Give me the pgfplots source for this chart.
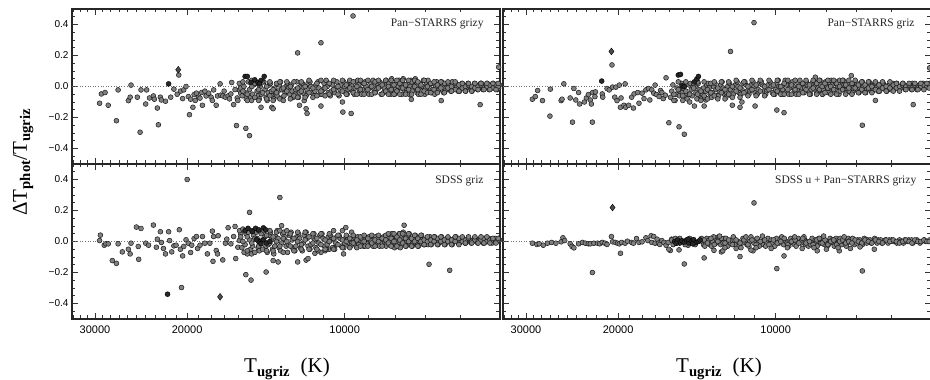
\documentclass[border=0pt]{standalone}
\usepackage{fontspec}
\setmainfont{Liberation Serif}
\setsansfont{Liberation Sans}
\usepackage{pgfplots}
\pgfplotsset{compat=1.18}

\pgfplotsset{
  pnl/.style={
    xmin=5050, xmax=33200, ymin=-0.5, ymax=0.5,
    scale only axis, width=428pt, height=155pt, anchor=south west,
    axis line style={line width=1.3pt, black!85},
    xtick={10000,20000,30000}, xticklabels={10000,20000,30000},
    minor xtick={6000,7000,8000,9000,11000,12000,13000,14000,15000,16000,17000,18000,19000,21000,22000,23000,24000,25000,26000,27000,28000,29000,31000,32000,33000},
    ytick={-0.4,-0.2,0,0.2,0.4}, yticklabels={−0.4,−0.2,0.0,0.2,0.4},
    minor ytick={-0.45,-0.35,-0.3,-0.25,-0.15,-0.1,-0.05,0.05,0.1,0.15,0.25,0.3,0.35,0.45},
    tick align=inside, major tick length=6pt, minor tick length=3.5pt,
    tick style={line width=0.7pt, black!80},
    xticklabel style={font=\sffamily\fontsize{11}{12}\selectfont, yshift=-3pt},
    yticklabel style={font=\sffamily\fontsize{10}{12}\selectfont},
  },
  zl/.style={black!55, line width=0.8pt, dash pattern=on 1pt off 1.6pt},
  gp/.style={only marks, mark=*, mark size=2.45pt, mark options={fill=black!50, draw=black!90, line width=0.5pt}},
  bk/.style={only marks, mark=*, mark size=2.5pt, mark options={fill=black!85, draw=black, line width=0.4pt}},
  dm/.style={only marks, mark=diamond*, mark size=3.4pt, mark options={fill=black!70, draw=black, line width=0.4pt}},
}
\tikzset{lab/.style={anchor=base east, font=\fontsize{11.5}{13}\selectfont, text=black!85}}

\begin{document}
\begin{tikzpicture}[x=1pt,y=1pt]
\useasboundingbox (0,0) rectangle (930,380);

% ---------------- top left ----------------
\begin{axis}[xmode=log, x dir=reverse, pnl, at={(72pt,216pt)}, xticklabels={}]
\addplot[zl] coordinates {(33200,0) (5050,0)};
\addplot[gp] coordinates {
(29400,-0.108) (29170,-0.048) (28700,-0.039) (28300,-0.121) (27300,-0.221) (27100,-0.022) (25900,-0.091) (25700,-0.069) (25600,0.009) (24900,-0.069) (24600,-0.295) (24500,-0.022) (23900,-0.022) (24000,-0.113) (23600,-0.074) (23200,-0.061) (23100,-0.082) (22800,-0.139) (22700,-0.247) (22500,-0.069) (22400,-0.087) (22000,-0.095) (21500,-0.069) (21200,-0.017) (20750,0.074) (20600,-0.03) (20400,-0.078) (20300,-0.022) (20100,0.0) (19800,-0.182) (19900,-0.065) (19700,-0.082) (19500,-0.134) (19400,-0.052) (19200,-0.043) (19000,-0.069) (18760,-0.039) (18700,-0.121) (18400,-0.061) (18200,-0.043) (18000,-0.069) (17800,-0.022) (17500,-0.061) (17300,0.017) (17250,-0.056) (17100,-0.061) (16900,-0.069) (16700,-0.061) (16500,-0.048) (16440,0.026) (16300,-0.117) (16100,-0.252) (16050,-0.074) (15900,-0.022) (15800,-0.043) (15450,-0.27) (15200,-0.317) (14450,-0.134) (13780,-0.134) (13700,-0.143)
(20900,-0.05) (19300,-0.09) (18900,-0.075) (18500,-0.03) (17900,-0.09) (17600,-0.121) (17000,-0.03) (16600,-0.08) (16200,-0.02) (16000,-0.09)
(12300,0.217) (11100,0.282) (12200,-0.121) (11950,-0.091) (11850,-0.143) (11800,-0.174) (11100,-0.126) (10080,-0.165) (9720,-0.174) (9640,0.455) (10100,-0.10) (7460,-0.083) (6540,-0.091) (5510,-0.117) (5080,0.125)
(15800,-0.01) (15700,-0.06) (15900,0.02) (15500,-0.04) (15420,-0.08) (15580,0.00) (15200,-0.02) (15120,-0.07) (15280,0.03) (15000,-0.05) (14930,0.01) (15060,-0.09)
(14700,-0.03) (14630,-0.06) (14770,0.02) (14500,0.00) (14430,-0.05) (14560,-0.08) (14200,-0.02) (14130,-0.07) (14270,0.03) (14000,-0.04) (13930,0.01) (14060,-0.09)
(13800,-0.03) (13740,-0.06) (13860,0.02) (13600,-0.01) (13540,-0.05) (13660,-0.08) (13400,-0.03) (13340,0.01) (13460,-0.06) (13200,-0.02) (13140,-0.07) (13260,0.03)
(13000,-0.04) (12940,0.00) (13060,-0.06) (12800,-0.01) (12740,-0.05) (12860,0.02) (12600,-0.03) (12540,-0.07) (12660,0.01) (12400,-0.02) (12350,0.03) (12450,-0.05)
(12200,-0.04) (12150,0.00) (12250,-0.07) (12000,-0.01) (11950,-0.05) (12050,0.02) (11800,-0.02) (11750,0.02) (11850,-0.06) (11600,0.00) (11550,-0.04) (11650,0.03)
(11400,-0.03) (11350,0.01) (11450,-0.06) (11200,-0.01) (11150,-0.05) (11250,0.03) (11000,-0.02) (10950,0.02) (11050,-0.05) (10800,0.00) (10750,-0.04) (10850,0.04)
(10600,-0.03) (10550,0.01) (10650,-0.06) (10400,-0.01) (10350,0.03) (10450,-0.04) (10200,-0.02) (10150,0.01) (10250,-0.06) (10000,0.00) (9960,-0.04) (10040,0.03)
(9850,-0.02) (9810,0.02) (9890,-0.05) (9700,0.01) (9660,-0.03) (9740,0.03) (9550,-0.01) (9510,0.03) (9590,-0.05) (9400,0.01) (9360,-0.03) (9440,0.04)
(9250,-0.02) (9210,0.02) (9290,-0.05) (9100,0.00) (9060,-0.04) (9140,0.03) (8950,-0.01) (8910,0.02) (8990,-0.05) (8800,0.01) (8770,-0.03) (8830,0.04)
(8700,-0.02) (8660,0.02) (8740,-0.04) (8550,0.00) (8520,-0.05) (8580,0.03) (8400,-0.01) (8370,0.03) (8430,-0.04) (8300,0.02) (8270,-0.02) (8330,0.04)
(8200,-0.01) (8170,-0.05) (8230,0.02) (8100,0.01) (8070,-0.03) (8130,0.05) (8000,-0.02) (7970,0.02) (8030,-0.05) (7900,0.00) (7870,0.04) (7930,-0.03)
(7800,-0.01) (7770,-0.05) (7830,0.03) (7700,0.01) (7670,-0.03) (7730,0.05) (7600,-0.02) (7570,0.02) (7630,-0.04) (7500,0.00) (7470,0.04) (7530,-0.05)
(7400,-0.01) (7370,0.02) (7430,-0.03) (7300,0.01) (7270,-0.04) (7330,0.05) (7200,-0.02) (7170,0.02) (7230,-0.05) (7100,0.00) (7070,0.04) (7130,-0.03)
(7000,-0.01) (6970,0.02) (7030,-0.05) (6900,0.01) (6870,-0.03) (6930,0.04) (6800,-0.02) (6770,0.02) (6830,-0.04) (6700,0.00) (6670,0.03) (6730,-0.05)
(6600,-0.01) (6570,0.02) (6630,-0.03) (6500,0.01) (6470,-0.04) (6530,0.03) (6400,-0.01) (6370,0.02) (6430,-0.03) (6300,0.00) (6270,-0.03) (6330,0.02)
(6200,-0.02) (6170,0.01) (6230,0.03) (6100,0.00) (6070,-0.03) (6130,0.02) (6000,-0.01) (5970,0.02) (6030,-0.03) (5920,0.01) (5890,-0.02)
(5840,-0.01) (5810,0.02) (5870,-0.03) (5760,0.00) (5730,-0.02) (5680,-0.01) (5650,0.02) (5710,-0.03) (5600,0.01) (5570,-0.02) (5530,-0.01) (5500,0.02)
(5460,0.00) (5440,-0.02) (5480,0.02) (5390,-0.01) (5370,0.01) (5320,0.00) (5300,-0.02) (5340,0.02) (5250,-0.01) (5230,0.01) (5180,0.01) (5160,-0.01) (5200,0.02)
(5120,0.00) (5100,-0.02) (5060,0.01) (5080,-0.01)
(15650,-0.03) (15350,-0.05) (15050,0.00) (14850,-0.07) (14600,-0.02) (14350,-0.04) (14100,0.00) (13900,-0.06) (13700,-0.02) (13500,-0.04) (13300,-0.08) (13100,-0.01) (12900,-0.03) (12700,0.00) (12500,-0.06) (12300,-0.01) (12100,-0.03) (11900,0.00) (11700,-0.04) (11500,-0.01) (11300,0.02) (11100,-0.03) (10900,-0.01) (10700,0.02) (10500,-0.02) (10300,0.00) (10100,-0.03) (9930,0.01) (9780,-0.01) (9630,-0.04) (9480,0.00) (9330,-0.02) (9180,0.02) (9030,-0.02) (8880,0.00) (8750,0.03) (8620,-0.01) (8480,0.01) (8350,-0.03) (8250,0.00) (8150,-0.02) (8050,0.01) (7950,-0.03) (7850,0.02) (7750,-0.01) (7650,0.01) (7550,-0.02) (7450,0.03) (7350,0.00) (7250,-0.02) (7150,0.01) (7050,-0.03) (6950,0.00) (6850,0.02) (6750,-0.02) (6650,0.01) (6550,-0.01) (6450,0.02) (6350,-0.01) (6250,0.00) (6150,-0.02) (6050,0.01) (5960,-0.01) (5880,0.00) (5800,0.01) (5720,0.00) (5640,-0.01) (5560,0.00) (5490,0.01) (5420,-0.01) (5350,0.00) (5280,0.01) (5210,-0.01) (5140,0.01) (5090,0.00)
(15650,0.03) (15350,-0.09) (15050,0.04) (14850,0.02) (14600,-0.09) (14350,0.03) (14100,-0.08) (13900,0.03) (13700,-0.09) (13500,0.02) (13300,0.03) (13100,-0.09) (12900,0.03) (12700,-0.08) (12500,0.03) (12300,-0.07) (12100,0.03) (11900,-0.07) (11700,0.04) (11500,-0.07) (11300,-0.06) (11100,0.04) (10900,-0.06) (10700,-0.05) (10500,0.04) (10300,-0.05) (10100,0.04) (9930,-0.05) (9780,0.04) (9630,0.03) (9480,-0.05) (9330,0.04) (9180,-0.05) (9030,0.04) (8880,-0.05) (8750,-0.04) (8620,0.04) (8480,-0.05) (8350,0.04) (8250,-0.05) (8150,0.04) (8050,-0.05) (7950,0.04) (7850,-0.05) (7750,0.04) (7650,-0.05) (7550,0.04) (7450,-0.05) (7350,0.04) (7250,0.03) (7150,-0.05) (7050,0.04) (6950,-0.04) (6850,-0.04) (6750,0.03) (6650,-0.04) (6550,0.03) (6450,-0.04) (6350,0.03) (6250,-0.03) (6150,0.03) (6050,-0.03) (5960,0.02) (5880,-0.03) (5800,0.02) (5720,-0.03) (5640,0.02) (5560,-0.02) (5490,0.02) (5420,-0.02) (5350,0.02) (5280,-0.02) (5210,0.02) (5140,-0.02) (5090,0.02)
};
\addplot[bk] coordinates {(15500,0.065) (15350,0.065) (15100,0.026) (14850,0.043) (14650,0.026) (14450,0.039) (14250,0.065) (14550,0.017) (21700,0.017)};
\addplot[dm] coordinates {(20800,0.108)};
\node[lab] at (rel axis cs:0.97,0.884) {Pan−STARRS grizy};
\end{axis}

% ---------------- bottom left ----------------
\begin{axis}[xmode=log, x dir=reverse, pnl, at={(72pt,61pt)}]
\addplot[zl] coordinates {(33200,0) (5050,0)};
\addplot[gp] coordinates {
(29400,0.006) (29300,0.041) (28800,-0.024) (28600,-0.015) (28300,-0.015) (27800,-0.123) (27300,-0.141) (27100,-0.015) (26600,-0.067) (25900,-0.05) (25700,-0.08) (25600,-0.011) (25000,0.093) (24500,0.084) (24800,-0.032) (24750,-0.115) (24000,-0.011) (23700,-0.024) (23200,0.106) (22900,-0.037) (22800,0.015) (22500,0.063) (22400,-0.006) (22200,-0.045) (22000,-0.08) (21700,0.063) (21600,0.006) (21400,-0.067) (21200,-0.028) (21000,-0.024) (20700,0.076) (20500,-0.297) (20600,-0.05) (20400,-0.093) (20300,-0.032) (20100,0.011) (20000,0.40) (19900,-0.011) (19700,-0.071) (19600,-0.024) (19400,0.019) (19200,0.032) (19100,-0.045) (18900,-0.024) (18700,0.032) (18500,-0.011) (18300,-0.080) (18100,-0.011) (17900,0.067) (17850,-0.128) (17800,0.032) (17600,-0.058) (17500,-0.080) (17450,0.037) (17100,-0.119) (16900,-0.011) (16800,0.015) (16700,0.089) (16500,-0.015) (16300,0.032) (16200,0.097) (16150,-0.11) (16000,-0.037) (15900,0.006) (15800,0.050)
(15200,0.188) (15450,-0.214) (15100,-0.249) (15350,-0.08) (14130,-0.197) (13700,-0.123) (13400,-0.132) (13300,0.284) (13200,0.102) (12300,-0.132) (11850,-0.12) (11750,-0.11) (11400,-0.076) (11100,-0.07) (10900,-0.06) (10700,-0.05) (10500,-0.04) (10500,0.07) (10100,0.07) (9950,0.09) (10050,-0.08) (9700,0.06) (7700,0.105) (6900,-0.147) (6300,-0.186)
(15800,0.03) (15720,-0.04) (15880,0.07) (15500,-0.02) (15430,0.05) (15570,-0.07) (15200,0.01) (15130,-0.05) (15270,0.06) (15000,-0.03) (14930,0.04) (15070,-0.08)
(14700,0.02) (14640,-0.04) (14760,0.06) (14500,-0.01) (14440,0.05) (14560,-0.06) (14200,0.03) (14140,-0.03) (14260,0.07) (14000,-0.02) (13940,0.04) (14060,-0.07)
(13800,0.01) (13740,-0.05) (13860,0.06) (13600,-0.03) (13540,0.03) (13660,-0.08) (13400,0.02) (13340,-0.04) (13460,0.07) (13200,-0.01) (13140,0.05) (13260,-0.06)
(13000,0.03) (12940,-0.03) (13060,0.06) (12800,-0.02) (12740,0.04) (12860,-0.07) (12600,0.01) (12540,-0.05) (12660,0.06) (12400,-0.03) (12350,0.03) (12450,-0.06)
(12200,0.02) (12150,-0.04) (12250,0.05) (12000,-0.01) (11950,0.04) (12050,-0.06) (11800,0.02) (11750,-0.03) (11850,0.06) (11600,-0.02) (11550,0.03) (11650,-0.05)
(11400,0.01) (11350,-0.04) (11450,0.05) (11200,-0.01) (11150,0.04) (11250,-0.06) (11000,0.02) (10950,-0.03) (11050,0.05) (10800,-0.02) (10750,0.03) (10850,-0.05)
(10600,0.01) (10550,-0.04) (10650,0.04) (10400,-0.01) (10350,0.03) (10450,-0.05) (10200,0.02) (10150,-0.03) (10250,0.04) (10000,-0.01) (9960,0.02) (10040,-0.04)
(9850,0.01) (9810,-0.03) (9890,0.03) (9700,-0.01) (9660,0.02) (9740,-0.03) (9550,0.00) (9510,-0.03) (9590,0.03) (9400,-0.02) (9360,0.01) (9440,0.03)
(9250,0.00) (9210,-0.03) (9290,0.02) (9100,-0.01) (9060,0.02) (9140,-0.03) (8950,0.01) (8910,-0.02) (8990,0.03) (8800,-0.01) (8770,0.02) (8830,-0.03)
(8700,0.00) (8660,-0.02) (8740,0.03) (8550,-0.01) (8520,0.02) (8580,-0.03) (8400,0.01) (8370,-0.02) (8430,0.03) (8300,-0.01) (8270,0.03) (8330,-0.03)
(8200,0.00) (8170,0.04) (8230,-0.02) (8100,0.02) (8070,-0.02) (8130,0.05) (8000,-0.01) (7970,0.03) (8030,-0.04) (7900,0.01) (7870,0.05) (7930,-0.03)
(7800,-0.01) (7770,0.03) (7830,-0.04) (7700,0.02) (7670,-0.02) (7730,0.06) (7600,0.00) (7570,0.04) (7630,-0.03) (7500,0.01) (7470,-0.02) (7530,0.05)
(7400,-0.01) (7370,0.03) (7430,-0.03) (7300,0.02) (7270,-0.01) (7330,0.04) (7200,0.00) (7170,0.03) (7230,-0.03) (7100,0.01) (7070,-0.02) (7130,0.04)
(7000,-0.01) (6970,0.02) (7030,-0.02) (6900,0.01) (6870,0.03) (6930,-0.02) (6800,0.00) (6770,0.02) (6830,-0.02) (6700,0.01) (6670,-0.01) (6730,0.03)
(6600,0.00) (6570,0.02) (6630,-0.02) (6500,0.01) (6470,-0.01) (6530,0.03) (6400,0.00) (6370,0.02) (6430,-0.02) (6300,0.01) (6270,-0.01) (6330,0.02)
(6200,0.00) (6170,0.02) (6230,-0.02) (6100,0.01) (6070,-0.01) (6130,0.03) (6000,0.00) (5970,0.02) (6030,-0.01) (5920,0.01) (5890,-0.01)
(5840,0.00) (5810,0.02) (5870,-0.01) (5760,0.01) (5730,-0.01) (5680,0.00) (5650,0.02) (5600,0.01) (5570,-0.01) (5630,0.02) (5530,0.00) (5500,0.02)
(5460,0.01) (5440,-0.01) (5390,0.00) (5370,0.02) (5410,-0.01) (5320,0.01) (5300,0.02) (5250,0.00) (5230,-0.01) (5180,0.01) (5160,0.02)
(5120,0.00) (5100,0.01) (5060,0.01) (5080,0.02)
(15650,0.00) (15350,0.03) (15050,-0.01) (14850,0.02) (14600,-0.03) (14350,0.01) (14100,0.04) (13900,-0.01) (13700,0.03) (13500,0.00) (13300,-0.03) (13100,0.02) (12900,0.00) (12700,-0.03) (12500,0.02) (12300,0.00) (12100,-0.02) (11900,0.01) (11700,0.03) (11500,-0.01) (11300,0.02) (11100,-0.02) (10900,0.01) (10700,0.00) (10500,0.02) (10300,-0.02) (10100,0.01) (9930,0.00) (9780,0.02) (9630,-0.01) (9480,0.01) (9330,0.03) (9180,0.00) (9030,0.02) (8880,-0.01) (8750,0.01) (8620,0.00) (8480,0.02) (8350,0.01) (8250,-0.01) (8150,0.02) (8050,0.00) (7950,0.03) (7850,0.01) (7750,-0.01) (7650,0.02) (7550,0.00) (7450,0.02) (7350,0.00) (7250,0.02) (7150,0.00) (7050,0.01) (6950,0.00) (6850,0.01) (6750,0.00) (6650,0.02) (6550,0.00) (6450,0.01) (6350,0.00) (6250,0.01) (6150,0.00) (6050,0.02) (5960,0.00) (5880,0.01) (5800,0.02) (5720,0.00) (5640,0.01) (5560,0.00) (5490,0.01) (5420,0.02) (5350,0.00) (5280,0.01) (5210,0.01) (5140,0.00) (5090,0.01)
(15650,0.08) (15350,-0.06) (15050,0.07) (14850,-0.07) (14600,0.07) (14350,-0.05) (14100,-0.06) (13900,0.07) (13700,-0.06) (13500,0.06) (13300,0.07) (13100,-0.07) (12900,0.07) (12700,0.05) (12500,-0.06) (12300,0.06) (12100,-0.05) (11900,0.06) (11700,-0.05) (11500,0.05) (11300,-0.05) (11100,0.05) (10900,-0.05) (10700,0.05) (10500,-0.05) (10300,0.04) (10100,-0.04) (9930,0.04) (9780,-0.04) (9630,0.04) (9480,-0.04) (9330,-0.03) (9180,0.04) (9030,-0.03) (8880,0.04) (8750,-0.03) (8620,0.04) (8480,-0.03) (8350,0.04) (8250,0.05) (8150,-0.03) (8050,0.05) (7950,-0.03) (7850,0.05) (7750,0.05) (7650,-0.03) (7550,0.05) (7450,-0.03) (7350,0.04) (7250,-0.03) (7150,0.04) (7050,-0.02) (6950,0.03) (6850,-0.02) (6750,0.03) (6650,-0.02) (6550,0.03) (6450,-0.02) (6350,0.03) (6250,-0.02) (6150,0.03) (6050,-0.02) (5960,0.03) (5880,-0.01) (5800,0.03) (5720,-0.01) (5640,0.03) (5560,-0.01) (5490,0.03) (5420,-0.01) (5350,0.03) (5280,-0.01) (5210,0.02) (5140,-0.01) (5090,0.02)
};
\addplot[bk] coordinates {(14600,0.0) (14300,0.01) (14100,-0.01) (13900,0.0) (14450,-0.015) (14750,0.012) (15500,0.07) (15300,0.085) (15000,0.065) (14800,0.085) (14600,0.075) (14300,0.088) (14150,0.075) (21800,-0.34)};
\addplot[dm] coordinates {(17300,-0.357)};
\node[lab] at (rel axis cs:0.97,0.877) {SDSS griz};
\end{axis}

% ---------------- top right ----------------
\begin{axis}[xmode=log, x dir=reverse, pnl, at={(503pt,216pt)}, xticklabels={}, yticklabels={}]
\addplot[zl] coordinates {(33200,0) (5050,0)};
\addplot[gp] coordinates {
(29170,-0.082) (28800,-0.065) (28500,-0.026) (27900,-0.091) (27000,-0.191) (26950,-0.017) (25700,-0.091) (25600,-0.082) (25400,0.017) (24700,-0.074) (24450,-0.23) (24300,-0.013) (24100,-0.087) (23800,-0.039) (23700,-0.113) (23200,-0.1) (23000,-0.074) (22800,-0.052) (22600,-0.087) (22500,-0.113) (22400,-0.23) (22380,-0.039) (22150,-0.065) (22100,-0.035) (21450,-0.048) (21400,-0.069) (20550,0.139)
(21000,-0.013) (20800,-0.022) (20500,-0.004) (20300,-0.069) (20200,-0.004) (20100,-0.091) (19900,0.009) (19800,-0.134) (19750,-0.074) (19500,-0.121) (19400,0.017) (19350,-0.134) (19100,-0.121) (18850,-0.069) (18700,-0.139) (18650,-0.048) (18350,-0.039) (18250,-0.108) (18000,-0.043) (17850,-0.078) (17700,-0.022) (17500,-0.013) (17400,-0.087) (17250,-0.022) (17100,-0.043) (17000,0.009) (16900,-0.052) (16700,-0.065) (16600,-0.026) (16500,-0.039) (16400,-0.078) (16250,-0.056) (16200,0.056) (16000,-0.234) (15300,-0.26) (14950,-0.308) (14300,-0.126) (13700,-0.126) (13600,-0.087)
(12200,0.226) (11000,0.412) (12100,-0.121) (11700,-0.134) (11600,-0.1) (10950,-0.126) (9950,-0.152) (9640,-0.169) (8400,0.06) (7170,0.07) (6830,-0.25) (6450,-0.09) (5460,-0.117) (5080,0.12)
(15800,-0.03) (15720,0.01) (15880,-0.07) (15500,-0.05) (15430,-0.01) (15570,-0.09) (15200,-0.03) (15130,0.02) (15270,-0.06) (15000,-0.01) (14930,-0.07) (15070,-0.04)
(14700,-0.05) (14640,0.01) (14760,-0.08) (14500,-0.02) (14440,-0.06) (14560,0.02) (14200,-0.04) (14140,-0.08) (14260,0.00) (14000,-0.02) (13940,-0.06) (14060,0.02)
(13800,-0.05) (13740,-0.01) (13860,-0.08) (13600,-0.03) (13540,0.01) (13660,-0.07) (13400,-0.01) (13340,-0.05) (13460,0.02) (13200,-0.04) (13140,0.00) (13260,-0.07)
(13000,-0.02) (12940,-0.06) (13060,0.02) (12800,-0.03) (12740,0.01) (12860,-0.06) (12600,-0.01) (12540,-0.05) (12660,0.03) (12400,-0.04) (12350,0.00) (12450,-0.07)
(12200,-0.02) (12150,-0.06) (12250,0.02) (12000,-0.03) (11950,0.01) (12050,-0.05) (11800,0.00) (11750,-0.04) (11850,0.03) (11600,-0.02) (11550,0.02) (11650,-0.05)
(11400,0.01) (11350,-0.03) (11450,0.03) (11200,-0.03) (11150,0.01) (11250,-0.05) (11000,0.00) (10950,-0.04) (11050,0.03) (10800,-0.02) (10750,0.02) (10850,-0.05)
(10600,0.01) (10550,-0.03) (10650,0.03) (10400,-0.03) (10350,0.01) (10450,-0.05) (10200,0.00) (10150,-0.04) (10250,0.03) (10000,-0.02) (9960,0.02) (10040,-0.05)
(9850,0.00) (9810,-0.03) (9890,0.04) (9700,-0.02) (9660,0.01) (9740,-0.05) (9550,0.01) (9510,-0.03) (9590,0.04) (9400,-0.01) (9360,0.02) (9440,-0.05)
(9250,0.00) (9210,-0.03) (9290,0.03) (9100,-0.02) (9060,0.02) (9140,-0.05) (8950,0.01) (8910,-0.03) (8990,0.04) (8800,-0.01) (8770,0.02) (8830,-0.04)
(8700,0.01) (8660,-0.03) (8740,0.03) (8550,-0.02) (8520,0.02) (8580,-0.05) (8400,0.00) (8370,-0.03) (8430,0.03) (8300,-0.01) (8270,0.03) (8330,-0.04)
(8200,0.01) (8170,-0.02) (8230,0.04) (8100,-0.02) (8070,0.02) (8130,-0.05) (8000,0.00) (7970,-0.03) (8030,0.03) (7900,-0.01) (7870,0.02) (7930,-0.04)
(7800,0.01) (7770,-0.03) (7830,0.04) (7700,-0.02) (7670,0.02) (7730,-0.04) (7600,0.00) (7570,-0.05) (7630,0.03) (7500,-0.01) (7470,0.03) (7530,-0.03)
(7400,0.01) (7370,-0.02) (7430,0.04) (7300,-0.02) (7270,0.02) (7330,-0.04) (7200,0.00) (7230,-0.03) (7100,-0.01) (7070,0.02) (7130,-0.04)
(7000,0.01) (6970,-0.03) (7030,0.03) (6900,-0.01) (6870,0.02) (6930,-0.04) (6800,0.00) (6770,-0.03) (6830,0.03) (6700,-0.02) (6670,0.01) (6730,-0.04)
(6600,0.01) (6570,-0.02) (6630,0.03) (6500,-0.01) (6470,0.02) (6530,-0.03) (6400,0.00) (6370,-0.03) (6430,0.02) (6300,-0.01) (6270,0.02) (6330,-0.03)
(6200,0.01) (6170,-0.02) (6230,0.02) (6100,-0.01) (6070,0.01) (6130,-0.03) (6000,0.00) (5970,0.02) (6030,-0.02) (5920,-0.01) (5890,0.01)
(5840,0.00) (5810,-0.02) (5870,0.02) (5760,-0.01) (5730,0.01) (5680,0.00) (5650,-0.02) (5710,0.02) (5600,-0.01) (5570,0.01) (5530,0.00) (5500,-0.02)
(5460,0.01) (5440,-0.01) (5480,0.02) (5390,0.00) (5370,-0.02) (5320,0.01) (5300,-0.01) (5250,0.00) (5230,0.02) (5180,-0.01) (5160,0.01)
(5120,0.01) (5100,0.00) (5060,0.00) (5080,0.02)
(15650,-0.05) (15350,-0.02) (15050,-0.06) (14850,-0.03) (14600,-0.05) (14350,-0.01) (14100,-0.05) (13900,-0.03) (13700,-0.06) (13500,-0.02) (13300,-0.04) (13100,-0.06) (12900,-0.01) (12700,-0.04) (12500,-0.02) (12300,-0.05) (12100,0.00) (11900,-0.03) (11700,-0.01) (11500,-0.04) (11300,0.00) (11100,-0.02) (10900,0.01) (10700,-0.03) (10500,0.00) (10300,-0.02) (10100,0.01) (9930,-0.03) (9780,0.00) (9630,0.02) (9480,-0.02) (9330,0.01) (9180,-0.02) (9030,0.00) (8880,0.02) (8750,-0.02) (8620,0.01) (8480,-0.01) (8350,0.02) (8250,-0.02) (8150,0.00) (8050,0.02) (7950,-0.01) (7850,0.00) (7750,-0.02) (7650,0.02) (7550,0.00) (7450,-0.02) (7350,0.01) (7250,-0.01) (7150,0.02) (7050,-0.01) (6950,0.01) (6850,-0.02) (6750,0.01) (6650,-0.01) (6550,0.00) (6450,-0.02) (6350,0.01) (6250,-0.01) (6150,0.00) (6050,-0.01) (5960,0.01) (5880,-0.01) (5800,0.00) (5720,0.01) (5640,0.00) (5560,0.01) (5490,-0.01) (5420,0.01) (5350,-0.01) (5280,0.00) (5210,0.01) (5140,0.00) (5090,0.01)
(15650,-0.09) (15350,0.03) (15050,-0.09) (14850,0.03) (14600,-0.10) (14350,0.02) (14100,0.03) (13900,-0.09) (13700,0.03) (13500,-0.08) (13300,0.02) (13100,0.03) (12900,-0.08) (12700,0.03) (12500,-0.08) (12300,0.03) (12100,-0.07) (11900,0.04) (11700,-0.07) (11500,0.03) (11300,-0.06) (11100,0.04) (10900,-0.06) (10700,0.04) (10500,-0.06) (10300,0.04) (10100,-0.05) (9930,0.04) (9780,-0.05) (9630,-0.05) (9480,0.04) (9330,-0.05) (9180,0.04) (9030,-0.05) (8880,-0.04) (8750,0.04) (8620,-0.05) (8480,0.04) (8350,-0.05) (8250,0.04) (8150,-0.05) (8050,-0.04) (7950,0.04) (7850,-0.05) (7750,0.04) (7650,-0.05) (7550,0.04) (7450,0.04) (7350,-0.05) (7250,0.04) (7150,-0.05) (7050,0.04) (6950,-0.04) (6850,0.03) (6750,-0.04) (6650,0.03) (6550,-0.04) (6450,0.03) (6350,-0.03) (6250,0.03) (6150,-0.03) (6050,0.03) (5960,-0.03) (5880,0.02) (5800,-0.03) (5720,0.02) (5640,-0.02) (5560,0.02) (5490,-0.02) (5420,0.02) (5350,-0.02) (5280,0.02) (5210,-0.02) (5140,0.02) (5090,-0.01)
};
\addplot[bk] coordinates {(15350,0.074) (15200,0.078) (15100,0.004) (14950,0.0) (14300,0.03) (14150,0.048) (14050,0.065) (21500,0.035)};
\addplot[dm] coordinates {(20600,0.226)};
\node[lab] at (rel axis cs:0.97,0.884) {Pan−STARRS griz};
\end{axis}

% ---------------- bottom right ----------------
\begin{axis}[xmode=log, x dir=reverse, pnl, at={(503pt,61pt)}, yticklabels={}]
\addplot[zl] coordinates {(33200,0) (5050,0)};
\addplot[gp] coordinates {
(29170,-0.011) (28600,-0.019) (28300,-0.015) (27800,-0.024) (27300,-0.011) (26800,-0.006) (26300,-0.011) (25700,-0.002) (25500,0.024) (25300,0.006) (24700,-0.015) (24500,-0.032) (24300,-0.041) (23800,-0.015) (23400,-0.006) (23100,-0.011) (22800,-0.015) (22600,-0.015) (22250,-0.011) (21900,-0.011) (21700,-0.015) (21450,-0.006) (21200,-0.011) (21000,-0.019) (20600,0.032) (20500,-0.002) (20250,-0.006) (20050,-0.011) (19900,-0.015) (19700,-0.006) (19400,-0.011) (19200,0.002) (18850,-0.006) (18700,-0.011) (18450,0.019) (18250,-0.006) (18000,-0.002) (17700,0.024) (17550,0.006) (17300,0.037) (17250,-0.006) (17100,0.032) (17000,-0.011) (16850,0.015) (16750,-0.011) (16650,-0.019) (16500,0.006) (16350,-0.006) (16200,-0.024) (16050,-0.006) (15900,-0.058) (15800,0.015) (16000,-0.05) (15300,-0.054) (14700,-0.024)
(19800,-0.076) (22400,-0.2) (14950,-0.145) (13700,-0.106) (12700,-0.067) (11700,-0.097) (11000,0.249) (9950,-0.175) (9640,-0.093) (13120,-0.057) (12620,-0.06) (11050,-0.06) (11150,-0.055) (8330,-0.06) (7560,-0.06) (6830,-0.19) (6480,-0.05)
(15800,0.01) (15700,-0.02) (15550,0.02) (15450,-0.01) (15250,0.02) (14900,-0.02) (14600,0.02) (14250,-0.02)
(13800,0.00) (13740,-0.02) (13860,0.02) (13600,-0.01) (13540,0.02) (13660,-0.03) (13400,0.01) (13340,-0.02) (13200,0.00) (13140,0.03) (13260,-0.03) (13000,-0.01) (12940,0.01)
(12800,0.01) (12740,-0.02) (12860,0.03) (12600,-0.01) (12540,0.02) (12400,0.00) (12350,-0.03) (12450,0.02) (12200,-0.01) (12150,0.01) (12000,0.01) (11950,-0.02) (12050,0.03)
(11800,0.00) (11750,-0.03) (11600,-0.01) (11550,0.02) (11650,-0.04) (11400,0.01) (11350,-0.02) (11200,0.00) (11150,0.03) (11250,-0.03) (11000,-0.01) (10950,0.01)
(10800,0.01) (10750,-0.03) (10850,0.02) (10600,0.00) (10550,-0.02) (10400,-0.01) (10350,0.02) (10450,-0.03) (10200,0.01) (10150,-0.01) (10000,0.00) (9960,0.02) (10040,-0.03)
(9850,-0.01) (9810,0.01) (9700,0.01) (9660,-0.02) (9740,0.03) (9550,0.00) (9510,-0.01) (9400,-0.01) (9360,0.02) (9440,-0.03) (9250,0.01) (9210,-0.02)
(9100,0.00) (9060,0.02) (9140,-0.03) (8950,-0.01) (8910,0.01) (8800,0.01) (8770,-0.02) (8830,0.03) (8700,0.00) (8660,-0.03) (8550,-0.01) (8520,0.02) (8580,-0.02)
(8400,0.01) (8370,-0.01) (8300,0.00) (8270,0.02) (8330,-0.03) (8200,-0.01) (8170,0.01) (8100,0.01) (8070,-0.02) (8130,0.02) (8000,0.00) (7970,-0.03)
(7900,-0.01) (7870,0.02) (7930,-0.02) (7800,0.01) (7770,-0.01) (7700,0.00) (7670,0.02) (7730,-0.03) (7600,-0.01) (7570,0.01) (7500,0.01) (7470,-0.02) (7530,0.02)
(7400,0.00) (7370,-0.01) (7300,-0.01) (7270,0.02) (7330,-0.03) (7200,0.01) (7170,0.00) (7100,0.00) (7070,-0.02) (7130,0.02) (7000,-0.01) (6970,0.01)
(6900,0.01) (6870,-0.01) (6800,0.00) (6770,0.02) (6830,-0.02) (6700,-0.01) (6670,0.01) (6600,0.01) (6570,-0.01) (6500,0.00) (6470,0.02) (6400,-0.01) (6370,0.01)
(6300,0.01) (6270,-0.01) (6200,0.00) (6170,0.01) (6100,-0.01) (6070,0.01) (6000,0.01) (5970,0.00) (5900,0.00) (5870,-0.01) (5800,0.01) (5770,0.00)
(5700,-0.01) (5670,0.01) (5600,0.00) (5570,0.01) (5500,0.01) (5470,-0.01) (5400,0.00) (5370,0.01) (5300,-0.01) (5270,0.00) (5200,0.01) (5170,0.00) (5100,0.00) (5080,0.01)
(13700,0.01) (13500,-0.01) (13300,0.02) (13100,-0.02) (12900,0.00) (12700,0.02) (12500,-0.01) (12300,0.01) (12100,-0.02) (11900,0.01) (11700,-0.01) (11500,0.01) (11300,-0.02) (11100,0.01) (10900,-0.02) (10700,0.00) (10500,0.01) (10300,-0.02) (10100,0.01) (9930,-0.01) (9780,0.00) (9630,0.02) (9480,-0.02) (9330,0.00) (9180,0.01) (9030,-0.01) (8880,0.02) (8750,-0.01) (8620,0.00) (8480,-0.02) (8350,0.01) (8250,0.02) (8150,-0.01) (8050,0.01) (7950,-0.02) (7850,0.00) (7750,0.01) (7650,-0.02) (7550,0.00) (7450,0.01) (7350,-0.01) (7250,0.00) (7150,-0.01) (7050,0.01) (6950,0.00) (6850,-0.01) (6750,0.01) (6650,0.00) (6550,-0.01) (6450,0.01) (6350,0.00) (6250,-0.01) (6150,0.01) (6050,0.00) (5960,0.01) (5880,0.00) (5800,-0.01) (5720,0.00) (5640,0.01) (5560,0.00) (5490,-0.01) (5420,0.01) (5350,0.00) (5280,0.00) (5210,0.01) (5140,0.00) (5090,0.00)
(12500,-0.04) (11900,-0.045) (10900,-0.04) (10200,-0.045) (9500,-0.04) (8900,-0.045) (8450,-0.04) (8000,-0.05) (7600,-0.04) (7200,-0.045) (6900,-0.035) (12800,0.035) (11400,0.03) (10600,0.035) (9200,0.03) (8100,0.035) (7400,0.03)
};
\addplot[bk] coordinates {(15600,0.0) (15400,0.01) (15250,-0.01) (15100,0.005) (14950,-0.005) (14800,0.01) (14650,-0.01) (14500,0.005) (14350,0.012) (14200,-0.008) (14050,0.0) (13950,0.01) (15500,-0.012) (14700,0.015) (14400,-0.015)};
\addplot[dm] coordinates {(20500,0.219)};
\node[lab] at (rel axis cs:0.974,0.877) {SDSS u + Pan−STARRS grizy};
\end{axis}

% axis titles
\node[rotate=90, anchor=base] at (27,218) {\fontsize{21}{24}\selectfont ΔT\textsubscript{\textbf{phot}}/T\textsubscript{\textbf{ugriz}}};
\node[anchor=base] at (287,7) {\fontsize{21}{24}\selectfont T\textsubscript{\textbf{ugriz}}\ \ (K)};
\node[anchor=base] at (719,7) {\fontsize{21}{24}\selectfont T\textsubscript{\textbf{ugriz}}\ \ (K)};
\end{tikzpicture}
\end{document}
